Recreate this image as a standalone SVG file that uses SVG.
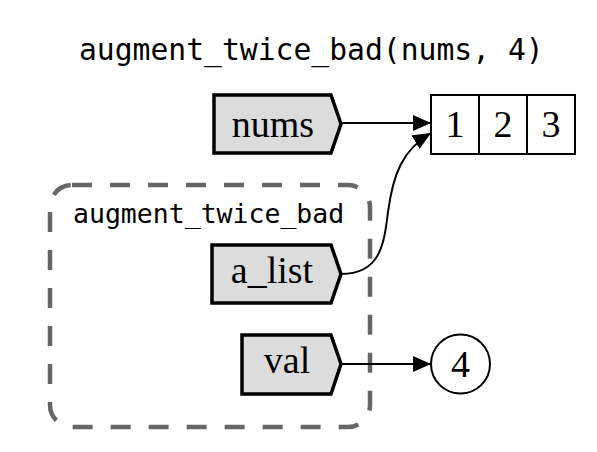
<svg xmlns="http://www.w3.org/2000/svg" width="597" height="452" viewBox="0 0 597 452">
<style>
.mono{font-family:"DejaVu Sans Mono",monospace;fill:#000}
.serif{font-family:"Liberation Serif","Times New Roman",serif;font-size:38px;fill:#000;text-anchor:middle}
.var{fill:#dcdcdc;stroke:#000;stroke-width:3.5;stroke-linejoin:miter}
.obj{fill:#fff;stroke:#000;stroke-width:2}
.edge{fill:none;stroke:#000;stroke-width:2}
</style>
<defs>
<marker id="ah" markerWidth="18" markerHeight="16" refX="18" refY="8" orient="auto" markerUnits="userSpaceOnUse">
<polygon points="0,0 18,8 0,16" fill="#000"/>
</marker>
</defs>
<rect width="597" height="452" fill="#fff"/>
<text class="mono" x="79" y="60" font-size="29.7">augment_twice_bad(nums, 4)</text>
<g id="frame">
<rect x="50" y="185" width="320" height="242" rx="22" fill="none" stroke="#666" stroke-width="4.5" stroke-dasharray="20 18"/>
<text class="mono" x="73" y="223" font-size="26.5">augment_twice_bad</text>
</g>
<g id="edges">
<path class="edge" d="M341,123 L431,123" marker-end="url(#ah)"/>
<path class="edge" d="M341,274 C380,274 384,245 388,212 C393,175 402,150 431,133" marker-end="url(#ah)"/>
<path class="edge" d="M341,364 L431,364" marker-end="url(#ah)"/>
</g>
<g id="nums">
<polygon class="var" points="214,95 331,95 341,124 331,153 214,153"/>
<text class="serif" x="273" y="137">nums</text>
</g>
<g id="a_list">
<polygon class="var" points="212,245 331,245 341,274 331,303 212,303"/>
<text class="serif" x="272" y="283">a_list</text>
</g>
<g id="val">
<polygon class="var" points="242,335 331,335 341,364 331,394 242,394"/>
<text class="serif" x="287" y="373">val</text>
</g>
<g id="list">
<rect class="obj" x="431" y="95" width="144" height="59"/>
<line class="obj" x1="479" y1="95" x2="479" y2="154"/>
<line class="obj" x1="527" y1="95" x2="527" y2="154"/>
<text class="serif" x="455" y="137">1</text>
<text class="serif" x="503" y="137">2</text>
<text class="serif" x="551" y="137">3</text>
</g>
<g id="four">
<circle class="obj" cx="460.5" cy="364" r="29.5"/>
<text class="serif" x="460.5" y="377">4</text>
</g>
</svg>
